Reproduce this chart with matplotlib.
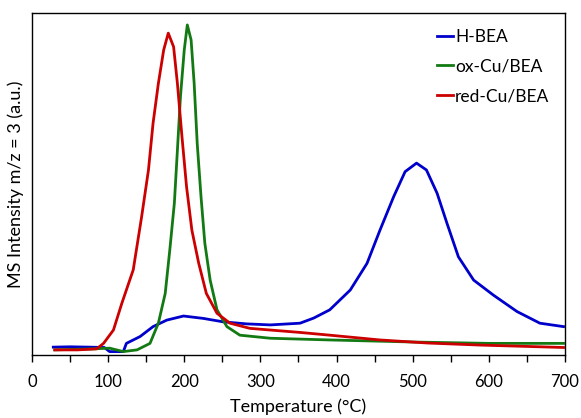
import matplotlib.pyplot as plt
from matplotlib.ticker import MultipleLocator

plt.rcParams['font.family'] = ['Lato', 'DejaVu Sans']

# H-BEA
t_hbea = [28, 50, 75, 95, 102, 120, 124, 142, 159, 177, 199, 225, 251, 282, 313,
          352, 370, 391, 418, 440, 457, 475, 490, 505, 518, 532, 545, 560, 580,
          606, 637, 667, 698]
i_hbea = [2.3, 2.4, 2.3, 2.2, 1.0, 1.0, 3.4, 5.4, 8.3, 10.2, 11.4, 10.7, 9.7, 9.1, 8.8,
          9.3, 10.8, 13.2, 19.0, 26.8, 36.5, 46.3, 53.6, 56.1, 54.1, 47.3, 38.5, 28.7, 21.9,
          17.5, 12.7, 9.3, 8.3]

# ox-Cu/BEA
t_ox = [30, 80, 102, 120, 138, 155, 166, 175, 181, 187, 191, 195, 200, 204, 209,
        213, 217, 222, 227, 234, 243, 256, 273, 313, 391, 500, 600, 698]
i_ox = [1.5, 1.8, 2.0, 1.0, 1.5, 3.4, 9.3, 18.0, 30.7, 44.4, 59.9, 75.5, 89.2, 96.5,
        92.1, 79.4, 61.9, 46.3, 32.7, 21.9, 13.2, 8.3, 5.8, 4.9, 4.4, 3.8, 3.4, 3.4]

# red-Cu/BEA
t_red = [30, 60, 85, 94, 107, 118, 133, 144, 153, 159, 166, 173, 179, 186, 191, 197,
         203, 210, 219, 229, 243, 260, 286, 313, 352, 391, 457, 520, 589, 698]
i_red = [1.5, 1.5, 1.8, 3.4, 7.3, 15.1, 24.9, 40.4, 54.1, 67.7, 79.4, 89.2, 94.1,
         90.1, 79.4, 63.8, 49.2, 36.5, 26.8, 18.0, 12.2, 9.3, 7.8, 7.3, 6.6, 5.8, 4.4,
         3.5, 2.9, 2.2]

fig = plt.figure(figsize=(5.81, 4.18), dpi=100)
ax = fig.add_axes([0.055, 0.1507, 0.9175, 0.8183])

ax.plot(t_hbea, i_hbea, color='#0000CC', lw=2, label='H-BEA')
ax.plot(t_ox, i_ox, color='#137A13', lw=2, label='ox-Cu/BEA')
ax.plot(t_red, i_red, color='#CC0000', lw=2, label='red-Cu/BEA')

ax.set_xlim(0, 700)
ax.set_ylim(0, 100)
ax.xaxis.set_major_locator(MultipleLocator(100))
ax.xaxis.set_minor_locator(MultipleLocator(50))
ax.tick_params(axis='x', which='both', direction='out', length=5, width=1,
               labelsize=12, pad=9)
ax.set_yticks([])
for s in ax.spines.values():
    s.set_linewidth(1)
    s.set_color('black')

ax.set_xlabel('Temperature (°C)', fontsize=13, labelpad=6)
ax.set_ylabel('MS Intensity m/z = 3 (a.u.)', fontsize=13, labelpad=6)

ax.legend(loc='upper right', frameon=False, fontsize=12.5, handlelength=0.9,
          handletextpad=0.15, labelspacing=0.8, borderaxespad=0.5)

fig.savefig('out.png', dpi=100)
